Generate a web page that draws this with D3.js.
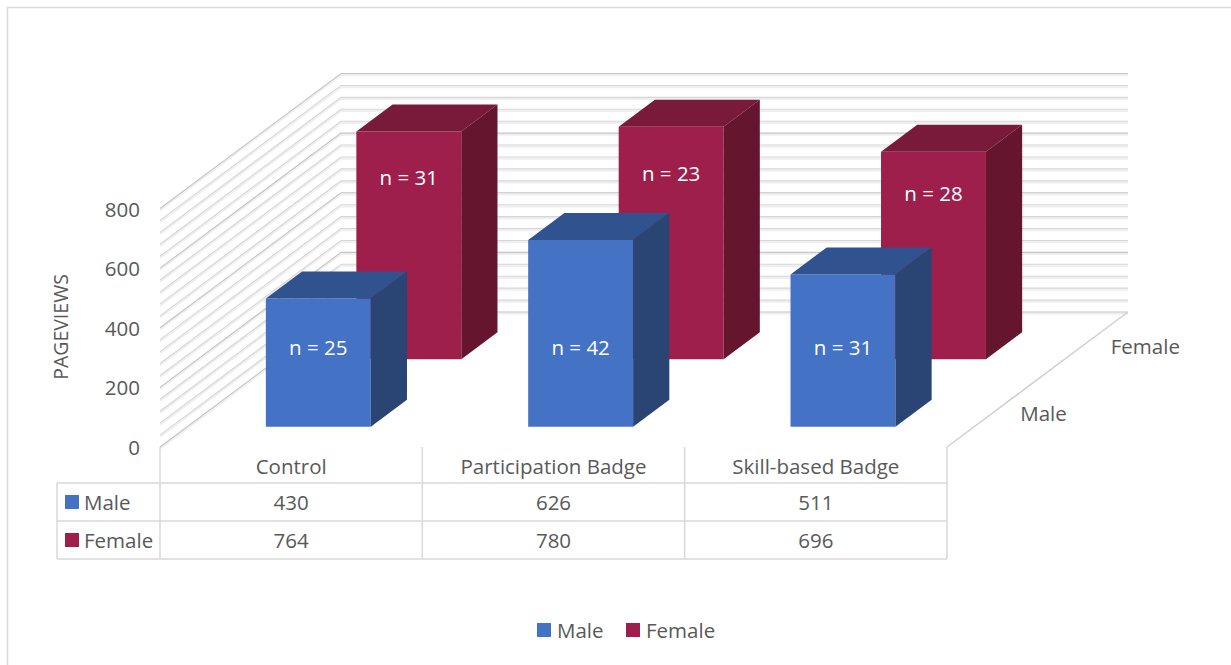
<!DOCTYPE html>
<html>
<head>
<meta charset="utf-8">
<script src="https://cdn.jsdelivr.net/npm/d3@7"></script>
<style>
  html, body { margin: 0; padding: 0; background: #fff; }
  svg { display: block; font-family: "Open Sans", Lato, sans-serif; }
</style>
</head>
<body>
<svg id="chart" width="1231" height="665"></svg>
<script>
// Pageviews by badge condition and gender
const categories = ["Control", "Participation Badge", "Skill-based Badge"];
const seriesNames = ["Male", "Female"];
const maleValues = [430, 626, 511];
const femaleValues = [764, 780, 696];
const maleCounts = [25, 42, 31];
const femaleCounts = [31, 23, 28];
const yTicks = [0, 200, 400, 600, 800];

const seriesValues = [maleValues, femaleValues];
const seriesCounts = [maleCounts, femaleCounts];
const palette = {
  Male:   { front: "#4472C4", top: "#30528F", side: "#2A4474" },
  Female: { front: "#9E1F4B", top: "#791A3A", side: "#66152F" }
};
const textColor = "#595959";
const lineColor = "#d9d9d9";
const fontSize = 20.5;

const svg = d3.select("#chart");

// Plot frame: front plane from x 160..947, floor at y 447, oblique depth vector
const frontLeft = 160, frontRight = 947, floorY = 447;
const DX = 181, DY = 135;

const x = d3.scaleBand().domain(categories).range([frontLeft, frontRight])
  .paddingInner(0.6).paddingOuter(0.3);
const z = d3.scaleBand().domain(seriesNames).range([0, 1])
  .paddingInner(0.6).paddingOuter(0.3);
const y = d3.scaleLinear().domain([0, 800]).range([floorY, 208.5]);

// project (front-plane x, value, depth 0..1) to screen
const P = (px, v, d) => [px + d * DX, y(v) - d * DY];
const pts = arr => arr.map(p => p.join(",")).join(" ");

// chart border (top and left edges)
svg.append("line").attr("x1", 7).attr("x2", 1231).attr("y1", 7.5).attr("y2", 7.5)
  .attr("stroke", "#d9d9d9").attr("stroke-width", 1.5);
svg.append("line").attr("x1", 7.5).attr("x2", 7.5).attr("y1", 7).attr("y2", 665)
  .attr("stroke", "#d9d9d9").attr("stroke-width", 1.5);

// walls: gridlines every 40 on back wall and side wall
const gridVals = d3.range(0, 801, 40);
const grid = svg.append("g");
gridVals.forEach(v => {
  const major = v % 200 === 0;
  const c = major ? "#c4c4c4" : "#d6d6d6";
  const b0 = P(frontLeft, v, 1), b1 = P(frontRight, v, 1);
  const s0 = P(frontLeft, v, 0);
  // soft shading beneath each line
  grid.append("polyline")
    .attr("points", pts([[s0[0], s0[1] + 1.6], [b0[0], b0[1] + 1.6], [b1[0], b1[1] + 1.6]]))
    .attr("fill", "none").attr("stroke", "#efefef").attr("stroke-width", 2.2);
  grid.append("polyline")
    .attr("points", pts([s0, b0, b1]))
    .attr("fill", "none").attr("stroke", c).attr("stroke-width", 1.1);
});

// floor right edge
svg.append("line")
  .attr("x1", P(frontRight, 0, 0)[0]).attr("y1", P(frontRight, 0, 0)[1])
  .attr("x2", P(frontRight, 0, 1)[0]).attr("y2", P(frontRight, 0, 1)[1])
  .attr("stroke", "#d0d0d0").attr("stroke-width", 1.5);

// bars: back series first
const bars = svg.append("g");
[1, 0].forEach(si => {
  const name = seriesNames[si];
  const col = palette[name];
  const d0 = z(name), d1 = z(name) + z.bandwidth();
  categories.forEach((cat, ci) => {
    const v = seriesValues[si][ci];
    const xl = x(cat), xr = x(cat) + x.bandwidth();
    const g = bars.append("g");
    // front face
    g.append("polygon")
      .attr("points", pts([P(xl, 0, d0), P(xr, 0, d0), P(xr, v, d0), P(xl, v, d0)]))
      .attr("fill", col.front);
    // top face
    g.append("polygon")
      .attr("points", pts([P(xl, v, d0), P(xr, v, d0), P(xr, v, d1), P(xl, v, d1)]))
      .attr("fill", col.top);
    // right side face
    g.append("polygon")
      .attr("points", pts([P(xr, 0, d0), P(xr, 0, d1), P(xr, v, d1), P(xr, v, d0)]))
      .attr("fill", col.side);
    // sample size label
    const labelV = name === "Male" ? 268 : v * 0.8;
    const lp = P(xl + x.bandwidth() / 2, labelV, d0);
    g.append("text")
      .attr("x", lp[0]).attr("y", lp[1])
      .attr("text-anchor", "middle").attr("dominant-baseline", "central")
      .attr("fill", "#ffffff").attr("font-size", fontSize)
      .text("n = " + seriesCounts[si][ci]);
  });
});

// value axis labels
svg.append("g").selectAll("text").data(yTicks).join("text")
  .attr("x", 140).attr("y", d => y(d))
  .attr("text-anchor", "end").attr("dominant-baseline", "central")
  .attr("fill", textColor).attr("font-size", fontSize)
  .text(d => d);

svg.append("text")
  .attr("transform", "translate(60,327) rotate(-90)")
  .attr("text-anchor", "middle").attr("dominant-baseline", "central")
  .attr("fill", textColor).attr("font-size", 19.5)
  .text("PAGEVIEWS");

// depth axis labels
seriesNames.forEach(name => {
  const p = P(frontRight, 0, z(name) + z.bandwidth() / 2);
  svg.append("text")
    .attr("x", p[0] + 28).attr("y", p[1])
    .attr("dominant-baseline", "central")
    .attr("fill", textColor).attr("font-size", fontSize)
    .text(name);
});

// data table beneath the plot
const tableLeft = 57;
const step = x.step();
const colEdges = d3.range(categories.length + 1).map(i => frontLeft + i * step);
const rowEdges = [floorY, 483, 521, 559];
const table = svg.append("g");
colEdges.forEach(cx => {
  table.append("line").attr("x1", cx).attr("x2", cx)
    .attr("y1", rowEdges[0]).attr("y2", rowEdges[3])
    .attr("stroke", lineColor).attr("stroke-width", 1.5);
});
table.append("line").attr("x1", tableLeft).attr("x2", tableLeft)
  .attr("y1", rowEdges[1]).attr("y2", rowEdges[3])
  .attr("stroke", lineColor).attr("stroke-width", 1.5);
[1, 2, 3].forEach(ri => {
  table.append("line").attr("x1", tableLeft).attr("x2", frontRight)
    .attr("y1", rowEdges[ri]).attr("y2", rowEdges[ri])
    .attr("stroke", lineColor).attr("stroke-width", 1.5);
});
// category headers
categories.forEach(cat => {
  table.append("text")
    .attr("x", x(cat) + x.bandwidth() / 2).attr("y", (rowEdges[0] + rowEdges[1]) / 2 + 1)
    .attr("text-anchor", "middle").attr("dominant-baseline", "central")
    .attr("fill", textColor).attr("font-size", fontSize)
    .text(cat);
});
// series rows
seriesNames.forEach((name, si) => {
  const cy = (rowEdges[si + 1] + rowEdges[si + 2]) / 2;
  table.append("rect").attr("x", 65).attr("y", cy - 7).attr("width", 14).attr("height", 14)
    .attr("fill", palette[name].front);
  table.append("text").attr("x", 84).attr("y", cy)
    .attr("dominant-baseline", "central")
    .attr("fill", textColor).attr("font-size", fontSize)
    .text(name);
  categories.forEach((cat, ci) => {
    table.append("text")
      .attr("x", x(cat) + x.bandwidth() / 2).attr("y", cy)
      .attr("text-anchor", "middle").attr("dominant-baseline", "central")
      .attr("fill", textColor).attr("font-size", fontSize)
      .text(seriesValues[si][ci]);
  });
});

// legend
const legend = svg.append("g");
const legendItems = [{ name: "Male", x: 537 }, { name: "Female", x: 626 }];
legendItems.forEach(it => {
  legend.append("rect").attr("x", it.x).attr("y", 623).attr("width", 14).attr("height", 14)
    .attr("fill", palette[it.name].front);
  legend.append("text").attr("x", it.x + 20).attr("y", 630)
    .attr("dominant-baseline", "central")
    .attr("fill", textColor).attr("font-size", fontSize)
    .text(it.name);
});
</script>
</body>
</html>
